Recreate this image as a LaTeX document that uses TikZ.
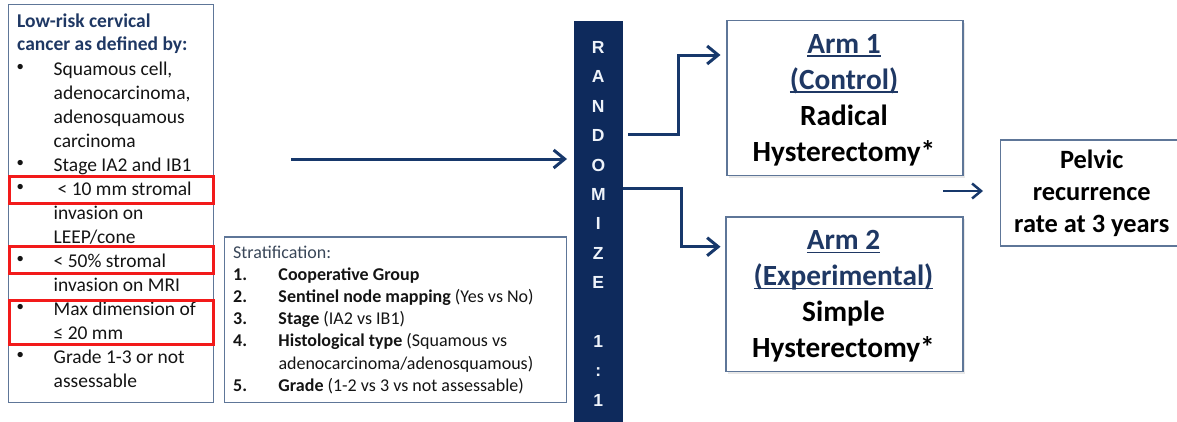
\documentclass[tikz,border=0pt]{standalone}
\usepackage{fontspec}
\setmainfont{Carlito}
\newfontfamily\barfont{Liberation Sans}
\usetikzlibrary{arrows.meta,shadows}

\definecolor{navy}{HTML}{0E2A5C}
\definecolor{arrowblue}{HTML}{17386B}
\definecolor{boxedge}{HTML}{5E7698}
\definecolor{titleblue}{HTML}{1F3864}
\definecolor{ink}{HTML}{141414}
\definecolor{strathead}{HTML}{3A4759}
\definecolor{hilite}{HTML}{F21A1A}
\definecolor{barlabel}{HTML}{EEF3FA}

% underlined arm label with a rule a little below the baseline
\newcommand\armline[1]{\setbox0\hbox{#1}\rlap{\rule[-3.8pt]{\wd0}{1.7pt}}\box0}
% list bullet: a small round dot
\newcommand\dotitem{\makebox[38.5pt][l]{\hspace{1.6pt}\raisebox{1.2pt}{\barfont •}}}

\begin{document}
\begin{tikzpicture}[x=1pt,y=-1pt,
  frame/.style={draw=boxedge, line width=1.6pt, inner sep=0pt, anchor=north west},
  armbox/.style={frame, fill=white, drop shadow={opacity=0.18, shadow xshift=2pt, shadow yshift=-2pt}},
  redframe/.style={draw=hilite, line width=3pt, inner sep=0pt, anchor=north west},
  flow/.style={draw=arrowblue, line width=3pt, -{Straight Barb[length=11pt,width=18pt]}},
  thinflow/.style={draw=arrowblue, line width=2.5pt, -{Straight Barb[length=9pt,width=15pt]}},
  txt/.style={inner sep=0pt, anchor=base west},
  ctxt/.style={inner sep=0pt, anchor=base},
  barletter/.style={inner sep=0pt, anchor=base, text=barlabel, font=\barfont\bfseries\fontsize{17.5}{17.5}\selectfont}
]
\useasboundingbox (0,0) rectangle (1177,421);

% ---------- eligibility box ----------
\node[frame, minimum width=205pt, minimum height=398pt] (crit) at (7.5,3.5) {};
\node[txt, text=titleblue, font=\bfseries\fontsize{19.5}{23}\selectfont] (crittitle) at (17,27)
  {\begin{tabular}[t]{@{}l@{}}Low-risk cervical\\cancer as defined by:\end{tabular}};
\node[txt, text=ink, font=\fontsize{19.5}{24}\selectfont] (critlist) at (15,75)
  {\begin{tabular}[t]{@{}l@{}l@{}}
    \dotitem & Squamous cell,\\
     & adenocarcinoma,\\
     & adenosquamous\\
     & carcinoma\\
    \dotitem & Stage IA2 and IB1\\
    \dotitem & \hspace{4pt}< 10 mm stromal\\
     & invasion on\\
     & LEEP/cone\\
    \dotitem & < 50\% stromal\\
     & invasion on MRI\\
    \dotitem & Max dimension of\\
     & ≤ 20 mm\\
    \dotitem & Grade 1-3 or not\\
     & assessable
  \end{tabular}};

% highlighted criteria
\node[redframe, minimum width=203.6pt, minimum height=27pt] (hl1) at (8.2,174.5) {};
\node[redframe, minimum width=203.6pt, minimum height=27pt] (hl2) at (8.2,244.5) {};
\node[redframe, minimum width=203.6pt, minimum height=44pt] (hl3) at (8.2,298.5) {};

% ---------- stratification box ----------
\node[frame, minimum width=342pt, minimum height=165.5pt] (strat) at (223.5,236) {};
\node[txt, text=strathead, font=\fontsize{18}{22.2}\selectfont] (stratttl) at (233,258) {Stratification:};
\node[txt, text=ink, font=\fontsize{18}{22.2}\selectfont] (stratlist) at (233,280.2)
  {\begin{tabular}[t]{@{}l@{}l@{}}
    \makebox[45.3pt][l]{\bfseries 1.} & \textbf{Cooperative Group}\\
    \makebox[45.3pt][l]{\bfseries 2.} & \textbf{Sentinel node mapping} (Yes vs No)\\
    \makebox[45.3pt][l]{\bfseries 3.} & \textbf{Stage} (IA2 vs IB1)\\
    \makebox[45.3pt][l]{\bfseries 4.} & \textbf{Histological type} (Squamous vs\\
     & adenocarcinoma/adenosquamous)\\
    \makebox[45.3pt][l]{\bfseries 5.} & \textbf{Grade} (1-2 vs 3 vs not assessable)
  \end{tabular}};

% ---------- randomisation bar ----------
\node[fill=navy, inner sep=0pt, anchor=north west, minimum width=49pt, minimum height=410pt] (rand) at (574,21) {};
\foreach \ch/\k in {R/0,A/1,N/2,D/3,O/4,M/5,I/6,Z/7,E/8,1/10,:/11,1/12}
  \node[barletter] (rl\k) at ({598.3},{53.5+29.4*\k}) {\ch};

% ---------- treatment arms ----------
\node[armbox, minimum width=236pt, minimum height=155pt] (arm1) at (726.3,19.8) {};
\node[armbox, minimum width=237pt, minimum height=154.5pt] (arm2) at (725.3,216.3) {};
\node[ctxt, font=\bfseries\fontsize{29.3}{36}\selectfont] (arm1txt) at (844,53.3)
  {\begin{tabular}[t]{@{}c@{}}\textcolor{titleblue}{\armline{Arm 1}}\\
   \textcolor{titleblue}{\armline{(Control)}}\\ Radical\\ Hysterectomy*\end{tabular}};
\node[ctxt, font=\bfseries\fontsize{29.3}{36}\selectfont] (arm2txt) at (843.5,249.5)
  {\begin{tabular}[t]{@{}c@{}}\textcolor{titleblue}{\armline{Arm 2}}\\
   \textcolor{titleblue}{\armline{(Experimental)}}\\ Simple\\ Hysterectomy*\end{tabular}};

% ---------- endpoint ----------
\node[frame, minimum width=200pt, minimum height=106pt] (pelvic) at (999.5,139) {};
\node[ctxt, font=\bfseries\fontsize{26.4}{32}\selectfont] (pelvictxt) at (1091.7,168.3)
  {\begin{tabular}[t]{@{}c@{}}Pelvic\\ recurrence\\ rate at 3 years\end{tabular}};

% ---------- connectors ----------
\coordinate (inlet) at (291,159);
\draw[flow, shorten >=7pt] (inlet) -- (rand.west |- inlet);

\coordinate (out1) at (628,134);
\coordinate (bend1) at (678.3,55);
\draw[flow, shorten >=5.8pt] (out1) -| (bend1) -- (arm1.west |- bend1);

\coordinate (bend2) at (681.7,246.7);
\draw[flow, shorten >=4.8pt] (rand.east |- 0,188.3) -| (bend2) -- (arm2.west |- bend2);

\coordinate (gap) at (943,191);
\draw[thinflow, shorten >=16.5pt] (gap) -- (pelvic.west |- gap);
\end{tikzpicture}
\end{document}
